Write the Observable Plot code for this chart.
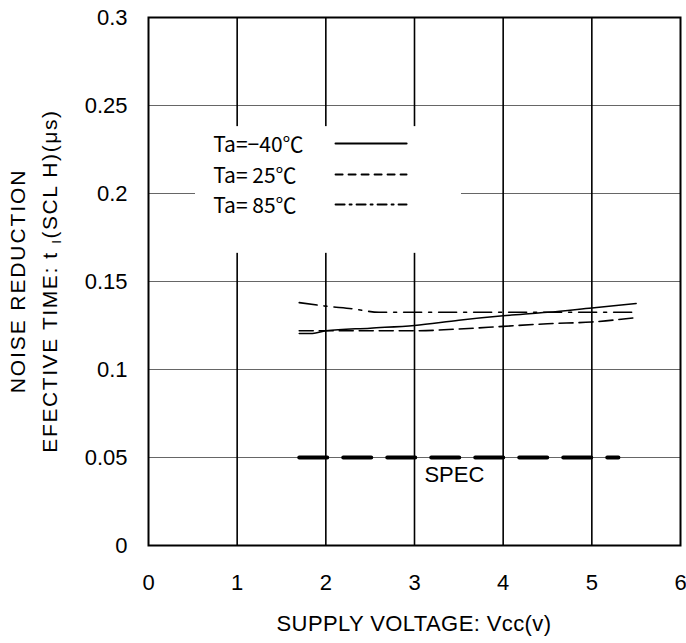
<!DOCTYPE html>
<html><head><meta charset="utf-8">
<script src="https://cdn.jsdelivr.net/npm/d3@7"></script>
<script src="https://cdn.jsdelivr.net/npm/@observablehq/plot@0.6"></script>
<style>body{margin:0;background:#fff}</style>
</head><body><div id="chart"></div>
<script>
// ---- data ----
const vcc40 = [1.7, 1.85, 2, 2.5, 3, 3.5, 4, 4.5, 5, 5.5];
const tf40  = [0.1205, 0.1205, 0.122, 0.1235, 0.125, 0.128, 0.1305, 0.1325, 0.135, 0.1375];
const vcc25 = [1.7, 2, 2.5, 3, 3.5, 4, 4.5, 5, 5.5];
const tf25  = [0.122, 0.122, 0.122, 0.122, 0.123, 0.1245, 0.126, 0.127, 0.1295];
const vcc85 = [1.7, 2, 2.3, 2.6, 3, 4, 5, 5.5];
const tf85  = [0.138, 0.136, 0.1345, 0.1325, 0.1325, 0.1325, 0.1325, 0.1325];
const specV = [1.7, 5.3];
const specT = [0.05, 0.05];
const specLabel = "SPEC";
const xTicks = [0, 1, 2, 3, 4, 5, 6];
const yTicks = [0, 0.05, 0.1, 0.15, 0.2, 0.25, 0.3];
const yTickLabels = ["0", "0.05", "0.1", "0.15", "0.2", "0.25", "0.3"];
const legendLabels = ["Ta=\u221240\u2103", "Ta= 25\u2103", "Ta= 85\u2103"];
const xTitle = "SUPPLY VOLTAGE: Vcc(v)";
const yTitle1 = "NOISE REDUCTION";
const yTitle2a = "EFECTIVE TIME: t ";
const yTitle2sub = "I";
const yTitle2b = "(SCL H)(\u03bcs)";

// ---- layout (not data) ----
const FONT = "'Liberation Sans', Arial, sans-serif";
const LFONT = "'Noto Sans CJK JP', sans-serif";
const legendBox = {x1: 0.53, x2: 3.53, y1: 0.166, y2: 0.238};
const legendRowsY = [0.2284, 0.2108, 0.1938];
const legendTextX = 0.73, legendLineX1 = 2.11, legendLineX2 = 2.91;
const specTextPos = {x: 3.45, y: 0.0402};
const styles = [
  {dash: null, w: 1.5, lw: 2.2},
  {dash: "14,6", w: 1.6, lw: 2, ldash: "7,6"},
  {dash: "18,7,3,7", w: 1.6, lw: 2, ldash: "9,5,2,5"}
];

const series = [
  vcc40.map((v, i) => ({v, t: tf40[i]})),
  vcc25.map((v, i) => ({v, t: tf25[i]})),
  vcc85.map((v, i) => ({v, t: tf85[i]}))
];
const spec = specV.map((v, i) => ({v, t: specT[i]}));

const marks = [
  Plot.ruleY(yTicks.slice(1, -1), {stroke: "#666", strokeWidth: 1}),
  Plot.ruleX(xTicks.slice(1, -1), {stroke: "#000", strokeWidth: 1.6}),
  Plot.rect([legendBox], {x1: "x1", x2: "x2", y1: "y1", y2: "y2", fill: "white"}),
  Plot.line(spec, {x: "v", y: "t", stroke: "#000", strokeWidth: 4, strokeDasharray: "28,16"}),
  Plot.text([specLabel], {x: specTextPos.x, y: specTextPos.y, text: d => d, fontSize: 22, fontFamily: FONT, fill: "#000"}),
];
series.forEach((s, i) => {
  marks.push(Plot.line(s, {x: "v", y: "t", stroke: "#000", strokeWidth: styles[i].w, strokeDasharray: styles[i].dash, curve: "monotone-x"}));
});
legendLabels.forEach((lab, i) => {
  marks.push(Plot.text([lab], {x: legendTextX, y: legendRowsY[i], text: d => d, textAnchor: "start", fontSize: 21, fontFamily: LFONT, fill: "#000", dy: 2}));
  marks.push(Plot.line([{v: legendLineX1, t: legendRowsY[i]}, {v: legendLineX2, t: legendRowsY[i]}], {x: "v", y: "t", stroke: "#000", strokeWidth: styles[i].lw, strokeDasharray: styles[i].ldash}));
});
marks.push(Plot.frame({stroke: "#000", strokeWidth: 2}));
marks.push(Plot.axisX(xTicks, {tickSize: 0, tickPadding: 29, fontSize: 22, fontFamily: FONT, label: null}));
marks.push(Plot.axisY(yTicks, {tickSize: 0, tickPadding: 21, fontSize: 22, fontFamily: FONT, label: null, tickFormat: d => yTickLabels[yTicks.indexOf(d)]}));

const chart = Plot.plot({
  width: 686, height: 643,
  marginLeft: 148, marginTop: 17, marginRight: 6, marginBottom: 98,
  x: {domain: [0, 6]},
  y: {domain: [0, 0.3]},
  style: {fontFamily: FONT, color: "#000", background: "#fff"},
  marks
});
document.getElementById("chart").appendChild(chart);

const svg = d3.select(chart);
svg.append("text")
  .attr("x", 414).attr("y", 631)
  .attr("text-anchor", "middle")
  .attr("font-family", FONT).attr("font-size", 22).attr("letter-spacing", 0.4).attr("fill", "#000")
  .text(xTitle);
svg.append("text")
  .attr("transform", "translate(25,281) rotate(-90)")
  .attr("text-anchor", "middle")
  .attr("font-family", FONT).attr("font-size", 21).attr("letter-spacing", 1.9).attr("fill", "#000")
  .text(yTitle1);
const t2 = svg.append("text")
  .attr("transform", "translate(57,281) rotate(-90)")
  .attr("text-anchor", "middle")
  .attr("font-family", FONT).attr("font-size", 21).attr("letter-spacing", 1.6).attr("fill", "#000");
t2.append("tspan").text(yTitle2a);
t2.append("tspan").attr("font-size", 13).attr("dy", 4).text(yTitle2sub);
t2.append("tspan").attr("dy", -4).text(yTitle2b);
</script>
</body></html>
